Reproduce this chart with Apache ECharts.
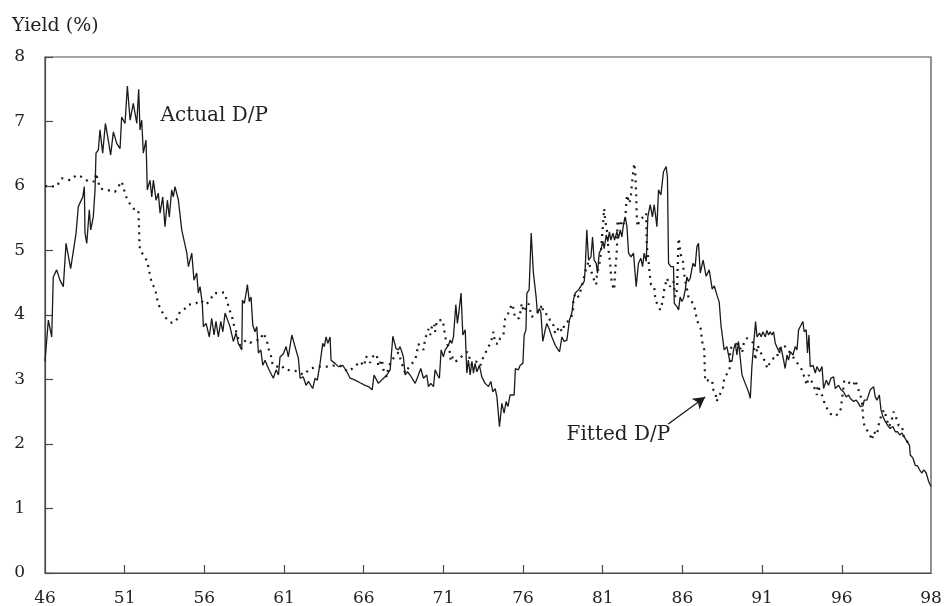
<!DOCTYPE html>
<html>
<head>
<meta charset="utf-8">
<script src="https://cdn.jsdelivr.net/npm/echarts@6/dist/echarts.min.js"></script>
<style>
html,body{margin:0;padding:0;background:#fff;}
#c{width:944px;height:606px;}
</style>
</head>
<body>
<div id="c"></div>
<script>
// ---- DATA ----
const xMin = 46;
const xMax = 101.6; // right frame edge (labelled "98")
const tickYears = [51, 56, 61, 66, 71, 76, 81, 86, 91, 96];
const labelPositions = [46, 51, 56, 61, 66, 71, 76, 81, 86, 91, 96, 101.6];
const tickLabels = ['46', '51', '56', '61', '66', '71', '76', '81', '86', '91', '96', '98'];
const yTickLabels = ['0', '1', '2', '3', '4', '5', '6', '7', '8'];

// Actual D/P [year, yield %]
const actualDP = [
[46.00,3.28],[46.21,3.92],[46.42,3.66],[46.52,4.59],[46.73,4.70],[46.94,4.54],[47.15,4.44],[47.32,5.11],[47.61,4.72],[47.95,5.27],
[48.09,5.68],[48.37,5.83],[48.47,5.99],[48.51,5.27],[48.62,5.11],[48.78,5.63],[48.87,5.32],[49.03,5.52],[49.14,5.94],[49.20,6.51],
[49.35,6.56],[49.45,6.87],[49.62,6.51],[49.79,6.97],[49.97,6.71],[50.12,6.48],[50.29,6.84],[50.50,6.66],[50.71,6.58],[50.81,7.07],
[51.02,6.97],[51.17,7.55],[51.34,7.02],[51.54,7.28],[51.76,6.97],[51.88,7.50],[51.96,6.87],[52.07,7.02],[52.17,6.51],[52.34,6.71],
[52.42,5.94],[52.59,6.09],[52.70,5.83],[52.80,6.09],[52.97,5.78],[53.11,5.89],[53.22,5.58],[53.39,5.83],[53.53,5.37],[53.68,5.78],
[53.80,5.52],[53.95,5.94],[54.05,5.83],[54.16,5.99],[54.37,5.78],[54.58,5.32],[54.90,4.96],[55.00,4.75],[55.21,4.96],[55.35,4.54],
[55.52,4.65],[55.62,4.34],[55.73,4.44],[55.87,4.18],[55.94,3.82],[56.11,3.87],[56.31,3.66],[56.46,3.95],[56.61,3.69],[56.73,3.90],
[56.88,3.66],[57.03,3.90],[57.16,3.74],[57.30,4.03],[57.41,4.05],[57.61,3.82],[57.82,3.59],[57.99,3.72],[58.13,3.56],[58.35,3.46],
[58.39,4.23],[58.51,4.18],[58.60,4.31],[58.70,4.47],[58.82,4.21],[58.93,4.28],[59.04,3.84],[59.18,3.74],[59.29,3.82],[59.39,3.41],
[59.54,3.46],[59.67,3.22],[59.81,3.30],[60.02,3.17],[60.33,3.02],[60.50,3.15],[60.65,3.07],[60.75,3.35],[60.96,3.40],[61.13,3.51],
[61.27,3.35],[61.49,3.69],[61.69,3.51],[61.90,3.33],[62.01,3.02],[62.21,3.04],[62.38,2.91],[62.53,2.97],[62.80,2.86],[62.95,3.02],
[63.09,2.99],[63.26,3.25],[63.43,3.56],[63.53,3.51],[63.64,3.66],[63.75,3.56],[63.89,3.66],[63.95,3.30],[64.20,3.25],[64.41,3.20],
[64.69,3.22],[64.94,3.12],[65.15,3.02],[65.46,2.99],[65.77,2.95],[66.09,2.91],[66.30,2.89],[66.53,2.84],[66.65,3.07],[66.92,2.94],
[67.24,3.02],[67.45,3.07],[67.66,3.15],[67.76,3.17],[67.83,3.67],[68.03,3.48],[68.18,3.46],[68.28,3.51],[68.39,3.43],[68.49,3.35],
[68.60,3.07],[68.74,3.12],[68.91,3.07],[69.23,2.94],[69.43,3.07],[69.58,3.17],[69.75,3.02],[69.96,3.07],[70.06,2.89],[70.21,2.94],
[70.38,2.89],[70.48,3.15],[70.63,3.07],[70.75,3.02],[70.86,3.46],[71.00,3.35],[71.11,3.46],[71.32,3.53],[71.42,3.61],[71.53,3.56],
[71.63,3.66],[71.78,4.16],[71.88,3.87],[71.99,4.08],[72.11,4.34],[72.22,3.69],[72.37,3.77],[72.47,3.10],[72.57,3.30],[72.68,3.07],
[72.79,3.28],[72.89,3.10],[72.99,3.25],[73.10,3.12],[73.26,3.22],[73.41,3.04],[73.62,2.94],[73.83,2.89],[73.98,2.97],[74.10,2.81],
[74.25,2.86],[74.36,2.73],[74.52,2.27],[74.67,2.63],[74.81,2.48],[74.94,2.66],[75.05,2.58],[75.19,2.76],[75.30,2.73],[75.44,2.76],
[75.52,3.17],[75.71,3.15],[75.82,3.22],[75.99,3.25],[76.07,3.69],[76.18,3.77],[76.24,4.34],[76.38,4.39],[76.51,5.27],[76.65,4.65],
[76.82,4.28],[76.90,4.03],[77.03,4.10],[77.12,4.03],[77.24,3.59],[77.39,3.77],[77.49,3.87],[77.66,3.77],[77.81,3.66],[78.02,3.53],
[78.29,3.43],[78.44,3.66],[78.58,3.59],[78.75,3.61],[78.91,3.92],[79.06,4.03],[79.16,4.23],[79.27,4.34],[79.48,4.39],[79.69,4.47],
[79.84,4.52],[79.90,4.72],[80.00,5.32],[80.11,4.85],[80.26,4.90],[80.36,5.21],[80.46,4.85],[80.59,4.80],[80.67,4.65],[80.78,4.96],
[80.88,5.01],[81.01,5.14],[81.09,5.03],[81.22,5.24],[81.32,5.14],[81.42,5.29],[81.51,5.16],[81.64,5.27],[81.74,5.16],[81.89,5.29],
[81.99,5.19],[82.10,5.32],[82.20,5.21],[82.30,5.40],[82.41,5.52],[82.52,5.37],[82.62,4.96],[82.77,4.90],[82.93,4.96],[83.10,4.44],
[83.24,4.80],[83.39,4.88],[83.50,4.75],[83.60,4.96],[83.73,4.83],[83.83,5.52],[83.98,5.71],[84.12,5.52],[84.23,5.71],[84.40,5.37],
[84.50,5.94],[84.65,5.86],[84.81,6.22],[84.98,6.30],[85.06,6.14],[85.13,4.80],[85.28,4.75],[85.44,4.75],[85.49,4.18],[85.66,4.13],
[85.76,4.08],[85.86,4.28],[85.97,4.21],[86.07,4.26],[86.18,4.39],[86.28,4.59],[86.38,4.52],[86.49,4.57],[86.66,4.80],[86.80,4.75],
[86.91,5.06],[87.01,5.11],[87.12,4.65],[87.30,4.85],[87.49,4.60],[87.68,4.70],[87.87,4.40],[88.00,4.45],[88.18,4.30],[88.31,4.20],
[88.42,3.84],[88.54,3.87],[88.62,3.46],[88.79,3.51],[88.96,3.30],[89.11,3.28],[89.21,3.46],[89.32,3.56],[89.42,3.38],[89.52,3.59],
[89.63,3.33],[89.74,3.07],[89.94,2.94],[90.15,2.81],[90.26,2.71],[90.36,3.20],[90.51,3.66],[90.59,3.90],[90.68,3.66],[90.84,3.72],
[90.95,3.66],[91.05,3.74],[91.20,3.66],[91.30,3.76],[91.41,3.69],[91.51,3.74],[91.62,3.69],[91.72,3.74],[91.83,3.56],[91.97,3.48],
[92.10,3.41],[92.18,3.51],[92.31,3.35],[92.45,3.17],[92.56,3.38],[92.66,3.30],[92.77,3.43],[92.94,3.38],[93.08,3.51],[93.19,3.46],
[93.29,3.77],[93.44,3.84],[93.56,3.90],[93.64,3.74],[93.77,3.77],[93.85,3.41],[93.94,3.69],[94.02,3.20],[94.19,3.22],[94.34,3.10],
[94.44,3.20],[94.61,3.12],[94.76,3.20],[94.86,2.86],[95.03,2.99],[95.17,2.91],[95.32,3.02],[95.49,3.04],[95.59,2.86],[95.80,2.91],
[95.95,2.84],[96.11,2.81],[96.28,2.73],[96.43,2.76],[96.53,2.71],[96.64,2.73],[96.74,2.66],[96.91,2.68],[97.05,2.63],[97.16,2.58],
[97.33,2.59],[97.41,2.68],[97.58,2.68],[97.68,2.69],[97.79,2.84],[97.90,2.85],[98.00,2.89],[98.10,2.73],[98.21,2.68],[98.36,2.76],
[98.46,2.53],[98.59,2.42],[98.73,2.35],[98.88,2.29],[99.04,2.24],[99.21,2.27],[99.36,2.19],[99.50,2.19],[99.63,2.14],[99.78,2.17],
[99.92,2.11],[100.09,2.04],[100.25,1.98],[100.30,1.83],[100.47,1.78],[100.61,1.67],[100.76,1.66],[100.88,1.60],[101.03,1.55],[101.14,1.60],
[101.30,1.55],[101.45,1.42],[101.60,1.34]
];

// Fitted D/P [year, yield %]
const fittedDP = [
[46.00,6.00],[46.11,6.02],[46.73,5.99],[47.05,6.12],[47.57,6.09],[47.99,6.17],[48.30,6.14],[48.72,6.07],[49.14,6.07],[49.20,6.20],
[49.45,5.96],[49.87,5.94],[50.39,5.91],[50.81,6.07],[51.02,5.89],[51.17,5.78],[51.54,5.65],[51.86,5.63],[51.90,5.37],[51.92,5.16],
[51.96,5.01],[52.17,4.93],[52.42,4.83],[52.55,4.67],[52.70,4.49],[52.91,4.41],[53.05,4.23],[53.22,4.10],[53.47,4.00],[53.68,3.92],
[53.95,3.88],[54.22,3.90],[54.47,4.05],[54.79,4.10],[55.00,4.16],[55.48,4.18],[55.73,4.23],[56.11,4.16],[56.36,4.23],[56.61,4.34],
[56.88,4.34],[57.24,4.35],[57.41,4.23],[57.57,4.08],[57.72,4.00],[57.82,3.87],[58.03,3.72],[58.24,3.53],[58.62,3.61],[58.87,3.57],
[59.25,3.61],[59.50,3.61],[59.70,3.72],[59.92,3.61],[60.02,3.48],[60.17,3.38],[60.29,3.22],[60.58,3.20],[60.86,3.22],[61.00,3.16],
[61.42,3.14],[61.84,3.13],[62.21,3.07],[62.64,3.17],[63.22,3.20],[63.78,3.20],[64.20,3.22],[64.52,3.21],[64.83,3.15],[65.04,3.12],
[65.40,3.19],[65.77,3.28],[66.03,3.21],[66.15,3.36],[66.40,3.26],[66.65,3.39],[66.82,3.38],[66.92,3.20],[67.14,3.31],[67.24,3.15],
[67.45,3.04],[67.55,3.20],[67.86,3.33],[68.18,3.42],[68.39,3.25],[68.60,3.10],[68.91,3.22],[69.23,3.30],[69.33,3.41],[69.43,3.55],
[69.75,3.46],[69.85,3.62],[70.06,3.78],[70.17,3.69],[70.28,3.82],[70.42,3.87],[70.48,3.74],[70.59,3.91],[70.80,3.92],[70.97,3.92],
[71.05,3.77],[71.17,3.60],[71.38,3.46],[71.47,3.28],[71.59,3.35],[71.74,3.28],[71.95,3.30],[72.16,3.36],[72.51,3.43],[72.79,3.22],
[73.06,3.28],[73.31,3.21],[73.48,3.33],[73.73,3.46],[74.00,3.59],[74.14,3.74],[74.25,3.56],[74.46,3.55],[74.56,3.64],[74.77,3.69],
[74.88,3.96],[75.08,4.03],[75.30,4.17],[75.40,4.10],[75.50,3.95],[75.77,3.95],[75.92,4.18],[76.03,4.05],[76.34,4.18],[76.55,3.97],
[76.76,4.03],[77.03,4.05],[77.18,4.16],[77.28,4.03],[77.59,4.00],[77.74,3.87],[77.91,3.84],[78.02,3.71],[78.29,3.82],[78.44,3.74],
[78.64,3.87],[78.96,3.93],[79.13,4.03],[79.16,4.21],[79.27,4.34],[79.48,4.28],[79.69,4.44],[79.90,4.67],[80.11,4.83],[80.26,4.70],
[80.38,4.59],[80.59,4.47],[80.63,4.62],[80.84,4.85],[80.95,5.19],[81.09,5.65],[81.15,5.47],[81.26,5.32],[81.36,5.01],[81.47,4.80],
[81.51,4.65],[81.57,4.49],[81.72,4.39],[81.78,4.70],[81.85,4.88],[81.89,5.03],[81.93,5.47],[82.10,5.37],[82.20,5.47],[82.35,5.40],
[82.43,5.55],[82.47,5.71],[82.52,5.86],[82.68,5.73],[82.77,5.86],[82.83,6.02],[82.90,6.20],[82.98,6.35],[83.04,6.20],[83.07,6.04],
[83.10,5.86],[83.13,5.55],[83.18,5.37],[83.31,5.47],[83.46,5.50],[83.60,5.55],[83.73,5.58],[83.75,5.24],[83.77,5.06],[83.88,4.83],
[83.94,4.65],[84.03,4.47],[84.23,4.44],[84.29,4.28],[84.40,4.18],[84.50,4.13],[84.61,4.08],[84.78,4.23],[84.86,4.40],[85.03,4.57],
[85.23,4.44],[85.44,4.52],[85.55,4.28],[85.66,4.39],[85.76,5.19],[85.82,5.11],[85.86,4.96],[86.03,4.85],[86.07,4.70],[86.18,4.52],
[86.28,4.41],[86.38,4.28],[86.49,4.26],[86.66,4.18],[86.80,4.08],[86.91,3.92],[87.16,3.78],[87.22,3.61],[87.37,3.46],[87.39,3.29],
[87.41,3.12],[87.43,2.97],[87.64,2.99],[87.86,2.99],[87.94,2.84],[88.07,2.81],[88.15,2.66],[88.27,2.73],[88.54,2.86],[88.62,3.02],
[88.96,3.15],[89.00,3.48],[89.25,3.53],[89.52,3.56],[89.74,3.41],[89.87,3.59],[90.05,3.64],[90.26,3.61],[90.43,3.57],[90.51,3.46],
[90.57,3.30],[90.72,3.53],[90.89,3.43],[91.09,3.33],[91.34,3.17],[91.47,3.25],[91.72,3.33],[91.93,3.33],[92.03,3.46],[92.31,3.53],
[92.45,3.51],[92.77,3.41],[93.14,3.28],[93.50,3.15],[93.71,2.99],[93.82,2.91],[93.92,3.07],[94.23,2.91],[94.44,2.76],[94.48,2.91],
[94.76,2.76],[94.96,2.60],[95.28,2.47],[95.59,2.43],[95.91,2.50],[96.01,2.68],[96.16,2.99],[96.33,2.97],[96.53,2.94],[96.74,2.91],
[96.85,2.99],[97.05,2.84],[97.26,2.68],[97.36,2.35],[97.47,2.24],[97.68,2.19],[97.90,2.06],[98.00,2.19],[98.21,2.14],[98.31,2.29],
[98.52,2.48],[98.67,2.53],[98.84,2.37],[98.94,2.27],[99.09,2.32],[99.25,2.50],[99.36,2.45],[99.42,2.40],[99.57,2.29],[99.78,2.28],
[99.89,2.11],[100.06,2.05],[100.30,1.98]
];

// Annotation anchors (data coordinates)
const actualLabelAt = [53.22, 7.09];
const fittedLabelAt = [78.7, 2.15];
const arrowFrom = [85.11, 2.31];
const arrowTo = [87.43, 2.73];

// ---- CHART ----
const FONT = '"DejaVu Serif", "Liberation Serif", serif';
const INK = '#1a1a1a';
const chart = echarts.init(document.getElementById('c'), null, {renderer: 'canvas'});
chart.setOption({
  animation: false,
  backgroundColor: '#ffffff',
  title: {
    text: 'Yield (%)',
    left: 12, top: 17,
    padding: 0,
    textStyle: {fontFamily: FONT, fontSize: 19, fontWeight: 'normal', color: '#222'}
  },
  grid: {
    left: 45, right: 13, top: 57, bottom: 33,
    containLabel: false,
    outerBoundsMode: 'none',
    show: true, borderColor: '#4a4a4a', borderWidth: 1.2, backgroundColor: 'transparent'
  },
  xAxis: {
    type: 'value',
    min: xMin, max: xMax,
    splitLine: {show: false},
    axisLine: {show: true, onZero: false, lineStyle: {color: '#4a4a4a', width: 1.2}},
    axisTick: {show: true, inside: true, length: 8, customValues: tickYears, lineStyle: {color: '#4a4a4a', width: 1.2}},
    axisLabel: {
      show: true, margin: 17, customValues: labelPositions,
      showMinLabel: true, showMaxLabel: true,
      fontFamily: FONT, fontSize: 17, color: '#222',
      formatter: function (v) {
        for (let i = 0; i < labelPositions.length; i++) {
          if (Math.abs(labelPositions[i] - v) < 1e-6) return tickLabels[i];
        }
        return '';
      }
    }
  },
  yAxis: {
    type: 'value',
    min: 0, max: 8, interval: 1,
    splitLine: {show: false},
    axisLine: {show: true, lineStyle: {color: '#4a4a4a', width: 1.2}},
    axisTick: {show: true, inside: true, length: 8, lineStyle: {color: '#4a4a4a', width: 1.2}},
    axisLabel: {
      margin: 20, fontFamily: FONT, fontSize: 17, color: '#222',
      formatter: function (v) { return yTickLabels[Math.round(v)]; }
    }
  },
  series: [
    {
      name: 'Fitted D/P',
      type: 'line',
      data: fittedDP,
      showSymbol: false, symbol: 'none',
      lineStyle: {color: INK, width: 2.2, type: [2, 5], cap: 'butt'},
      z: 2,
      markLine: {
        silent: true, animation: false,
        symbol: ['none', 'arrow'], symbolSize: [10, 12],
        label: {show: false},
        lineStyle: {color: INK, width: 1.3, type: 'solid'},
        data: [[{coord: arrowFrom}, {coord: arrowTo}]]
      },
      markPoint: {
        silent: true, animation: false,
        symbol: 'circle', symbolSize: 1,
        itemStyle: {color: 'rgba(0,0,0,0)'},
        label: {show: true, position: 'right', distance: 0, formatter: 'Fitted D/P',
          fontFamily: FONT, fontSize: 20, color: '#222'},
        data: [{coord: fittedLabelAt}]
      }
    },
    {
      name: 'Actual D/P',
      type: 'line',
      data: actualDP,
      showSymbol: false, symbol: 'none',
      lineStyle: {color: INK, width: 1.3},
      z: 3,
      markPoint: {
        silent: true, animation: false,
        symbol: 'circle', symbolSize: 1,
        itemStyle: {color: 'rgba(0,0,0,0)'},
        label: {show: true, position: 'right', distance: 0, formatter: 'Actual D/P',
          fontFamily: FONT, fontSize: 20, color: '#222'},
        data: [{coord: actualLabelAt}]
      }
    }
  ]
});
</script>
</body>
</html>
